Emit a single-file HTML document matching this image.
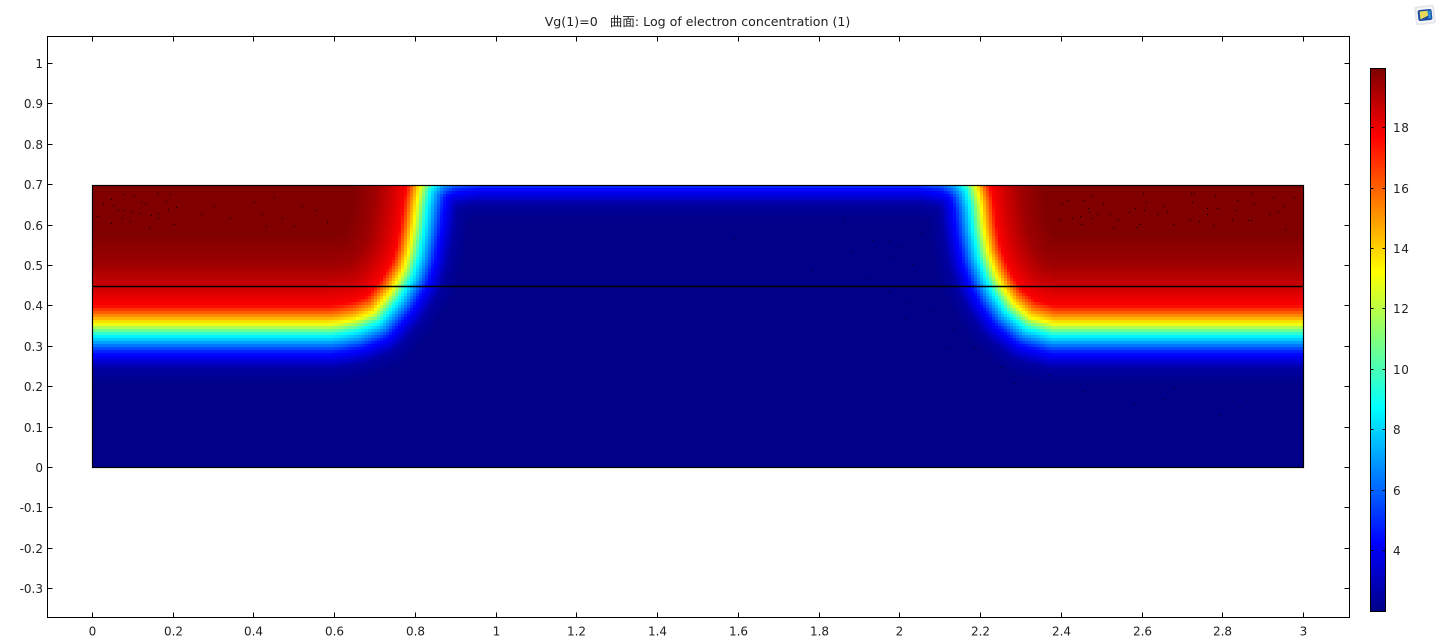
<!DOCTYPE html>
<html lang="en">
<head>
<meta charset="utf-8">
<title>Log of electron concentration</title>
<style>
  html, body { margin: 0; padding: 0; background: #fff; width: 1440px; height: 640px; overflow: hidden; }
  svg { display: block; position: absolute; left: 0; top: 0; }
  text { font-family: "DejaVu Sans", "WenQuanYi Zen Hei", "Noto Sans CJK SC", sans-serif; font-size: 12px; fill: #222; }
</style>
</head>
<body>
<svg id="chart" width="1440" height="640" viewBox="0 0 1440 640" xmlns="http://www.w3.org/2000/svg">
  <rect x="0" y="0" width="1440" height="640" fill="#fff"/>
  <g id="heatmap" shape-rendering="crispEdges"></g>
  <g id="specks" shape-rendering="crispEdges"></g>
  <g id="domain"></g>
  <g id="axes" shape-rendering="crispEdges"></g>
  <g id="tick-labels"></g>
  <g id="colorbar" shape-rendering="crispEdges"></g>
  <g id="colorbar-labels"></g>
  <text x="697.5" y="26" text-anchor="middle" xml:space="preserve" style="font-size:12.6px">Vg(1)=0   曲面: Log of electron concentration (1)</text>
  <g transform="translate(1425 15) rotate(-6)">
    <rect x="-10" y="-9.5" width="20" height="19" rx="2" fill="#e6e8ec"/>
    <rect x="-8" y="-7.5" width="16" height="15" rx="1" fill="#f7f7f9"/>
    <rect x="-7" y="-5.5" width="14" height="11" rx="2" fill="#1c4a9e"/>
    <path d="M-5 4 L-5 -4 L3 -4 L3 1 Z" fill="#e6d85a"/>
    <rect x="3" y="-4" width="3" height="8" fill="#2f8ad8"/>
  </g>
</svg>
<script>
// ---- axis tick data ----
const xTicks = [0, 0.2, 0.4, 0.6, 0.8, 1, 1.2, 1.4, 1.6, 1.8, 2, 2.2, 2.4, 2.6, 2.8, 3];
const yTicks = [1, 0.9, 0.8, 0.7, 0.6, 0.5, 0.4, 0.3, 0.2, 0.1, 0, -0.1, -0.2, -0.3];
const colorTicks = [18, 16, 14, 12, 10, 8, 6, 4];
const colorMin = 2.0;
const colorMax = 19.95;

// ---- geometry (data units) ----
const domainX = [0, 3];
const domainY = [0, 0.7];
const interfaceY = 0.45;

// ---- junction curve: where log concentration crosses ~13 ----
const junctionX = [-0.5, 0, 0.59, 0.614, 0.651, 0.696, 0.738, 0.751, 0.77, 0.783, 0.795, 0.803, 0.812, 0.84, 0.88, 0.95, 2.05, 2.12, 2.16, 2.188, 2.2, 2.207, 2.219, 2.237, 2.254, 2.281, 2.323, 2.38, 3, 3.5];
const junctionY = [0.356, 0.356, 0.356, 0.359, 0.366, 0.384, 0.433, 0.455, 0.488, 0.53, 0.594, 0.653, 0.7, 0.735, 0.755, 0.765, 0.765, 0.755, 0.735, 0.7, 0.653, 0.594, 0.53, 0.48, 0.446, 0.406, 0.371, 0.356, 0.356, 0.356];

// ---- log concentration against signed distance from the junction ----
const profileDistance = [-0.223, -0.144, -0.092, -0.045, -0.025, 0, 0.03, 0.072, 0.111, 0.149];
const profileValue = [19.95, 19.4, 18.6, 17.75, 15.8, 13.25, 8.75, 4.6, 2.5, 2.0];
const lateralStretchHigh = 1.4;
const lateralStretchLow = 1.1;

// ---- mesh specks ----
const speckX = [0.027,0.045,0.05,0.077,0.102,0.012,0.047,0.064,0.077,0.072,0.097,0.094,0.116,0.121,0.131,0.146,0.159,0.163,0.163,0.186,0.183,0.191,0.208,0.203,0.141,0.4,0.42,0.45,0.47,0.52,0.55,0.58,0.5,0.43,0.3,0.27,0.34,
  2.414,2.402,2.454,2.475,2.502,2.465,2.468,2.445,2.395,2.426,2.474,2.448,2.488,2.52,2.54,2.527,2.582,2.602,2.609,2.567,2.604,2.651,2.636,2.661,2.676,2.72,2.728,2.723,2.76,2.76,2.785,2.78,2.834,2.829,2.822,2.869,2.862,2.876,2.872,2.914,2.924,2.936,2.948,2.976,2.953,2.775,2.74,2.718,2.587,2.592];
const speckY = [0.656,0.666,0.651,0.678,0.673,0.624,0.606,0.639,0.639,0.619,0.636,0.611,0.631,0.658,0.653,0.626,0.681,0.631,0.619,0.641,0.661,0.678,0.646,0.604,0.594,0.66,0.63,0.67,0.62,0.65,0.64,0.61,0.6,0.6,0.65,0.63,0.62,
  0.665,0.655,0.665,0.675,0.655,0.644,0.633,0.625,0.615,0.618,0.618,0.603,0.628,0.63,0.615,0.598,0.644,0.68,0.66,0.633,0.64,0.65,0.628,0.633,0.603,0.68,0.68,0.66,0.643,0.63,0.645,0.677,0.665,0.638,0.615,0.615,0.615,0.655,0.68,0.63,0.672,0.635,0.648,0.67,0.593,0.601,0.611,0.615,0.598,0.603];
const faintSpeckX = [1.89,1.93,1.97,2.0,1.88,1.83,2.03,1.65,1.59,1.97,2.02,2.08,2.13,2.18,2.25,2.37,2.65,2.72,2.79,2.94,1.78,1.92,2.06,1.75,1.86,2.01,2.12,2.28,2.45,2.58,2.68,2.84,1.98,2.05,1.7];
const faintSpeckY = [0.59,0.565,0.56,0.55,0.535,0.56,0.505,0.535,0.57,0.435,0.41,0.39,0.34,0.3,0.25,0.23,0.17,0.12,0.13,0.105,0.49,0.47,0.45,0.6,0.62,0.37,0.3,0.21,0.19,0.16,0.2,0.15,0.52,0.58,0.45];

// ---- scales ----
const xScale = v => 92.5 + v * 403.7;
const yScale = v => 467.5 - v * 404;
const domainYScale = v => 467.5 - v * 403;
const colorScale = v => 550.5 - (v - 4) * 30.2;
const NS = 'http://www.w3.org/2000/svg';
const snap = p => Math.round(p - 0.5) + 0.5;

function jet(v) {
  const t = Math.max(0, Math.min(1, (v - colorMin) / (colorMax - colorMin)));
  const stops = [[0, 0, 0, 136], [0.125, 0, 0, 255], [0.375, 0, 255, 255], [0.625, 255, 255, 0], [0.875, 255, 0, 0], [1, 128, 0, 0]];
  for (let i = 1; i < stops.length; i++) {
    if (t <= stops[i][0]) {
      const a = stops[i - 1], b = stops[i], f = (t - a[0]) / (b[0] - a[0]);
      return 'rgb(' + Math.round(a[1] + (b[1] - a[1]) * f) + ',' + Math.round(a[2] + (b[2] - a[2]) * f) + ',' + Math.round(a[3] + (b[3] - a[3]) * f) + ')';
    }
  }
  return 'rgb(128,0,0)';
}

function lookup(xs, ys, x) {
  if (x <= xs[0]) return ys[0];
  for (let i = 1; i < xs.length; i++) {
    if (x <= xs[i]) return ys[i - 1] + (ys[i] - ys[i - 1]) * (x - xs[i - 1]) / (xs[i] - xs[i - 1]);
  }
  return ys[ys.length - 1];
}

function signedDistance(x, y) {
  const low = y < lookup(junctionX, junctionY, x);
  const stretch = low ? lateralStretchLow : lateralStretchHigh;
  let best = Infinity;
  for (let i = 1; i < junctionX.length; i++) {
    const ax = junctionX[i - 1] * stretch, ay = junctionY[i - 1];
    const bx = junctionX[i] * stretch, by = junctionY[i];
    const px = x * stretch, dx = bx - ax, dy = by - ay;
    const len = dx * dx + dy * dy;
    const u = len ? Math.max(0, Math.min(1, ((px - ax) * dx + (y - ay) * dy) / len)) : 0;
    const ex = px - (ax + u * dx), ey = y - (ay + u * dy);
    const dist = ex * ex + ey * ey;
    if (dist < best) best = dist;
  }
  best = Math.sqrt(best);
  return low ? best : -best;
}

function line(parent, x1, y1, x2, y2, width) {
  const el = document.createElementNS(NS, 'line');
  el.setAttribute('x1', x1);
  el.setAttribute('y1', y1);
  el.setAttribute('x2', x2);
  el.setAttribute('y2', y2);
  el.setAttribute('stroke', '#000');
  el.setAttribute('stroke-width', width || 1);
  parent.appendChild(el);
  return el;
}

function label(parent, x, y, str, anchor, spacing) {
  const el = document.createElementNS(NS, 'text');
  el.setAttribute('x', x);
  el.setAttribute('y', y);
  el.setAttribute('text-anchor', anchor);
  if (spacing) el.setAttribute('letter-spacing', spacing);
  el.textContent = str;
  parent.appendChild(el);
  return el;
}

// ---- heatmap ----
const heat = document.getElementById('heatmap');
const cellsX = 404, cellsY = 94;
const stepX = (domainX[1] - domainX[0]) / cellsX;
const stepY = (domainY[1] - domainY[0]) / cellsY;
const frag = document.createDocumentFragment();
for (let i = 0; i < cellsX; i++) {
  const cx = domainX[0] + (i + 0.5) * stepX;
  const left = Math.round(xScale(domainX[0] + i * stepX));
  const right = Math.round(xScale(domainX[0] + (i + 1) * stepX));
  for (let j = 0; j < cellsY; j++) {
    const cy = domainY[0] + (j + 0.5) * stepY;
    const top = Math.round(domainYScale(domainY[0] + (j + 1) * stepY));
    const bottom = Math.round(domainYScale(domainY[0] + j * stepY));
    const value = lookup(profileDistance, profileValue, signedDistance(cx, cy));
    const r = document.createElementNS(NS, 'rect');
    
    
    r.setAttribute('x', left);
    r.setAttribute('y', top);
    r.setAttribute('width', right - left);
    r.setAttribute('height', bottom - top);
    r.setAttribute('fill', jet(value));
    frag.appendChild(r);
  }
}
heat.appendChild(frag);

// ---- specks ----
const specks = document.getElementById('specks');
speckX.forEach((x, i) => {
  const s = document.createElementNS(NS, 'rect');
  
  
  s.setAttribute('x', Math.round(xScale(x)));
  s.setAttribute('y', Math.round(domainYScale(speckY[i])));
  s.setAttribute('width', 1);
  s.setAttribute('height', 1);
  s.setAttribute('fill', '#000');
  specks.appendChild(s);
});
faintSpeckX.forEach((x, i) => {
  const s = document.createElementNS(NS, 'rect');
  
  
  s.setAttribute('x', Math.round(xScale(x)));
  s.setAttribute('y', Math.round(domainYScale(faintSpeckY[i])));
  s.setAttribute('width', 2);
  s.setAttribute('height', 1);
  s.setAttribute('fill', '#000');
  s.setAttribute('opacity', 0.45);
  specks.appendChild(s);
});

// ---- geometry outline ----
const domain = document.getElementById('domain');
const outline = document.createElementNS(NS, 'rect');


outline.setAttribute('x', snap(xScale(domainX[0])));
outline.setAttribute('y', snap(domainYScale(domainY[1])));
outline.setAttribute('width', snap(xScale(domainX[1])) - snap(xScale(domainX[0])));
outline.setAttribute('height', snap(domainYScale(domainY[0])) - snap(domainYScale(domainY[1])));
outline.setAttribute('fill', 'none');
outline.setAttribute('stroke', '#000');
outline.setAttribute('stroke-width', 1.2);
domain.appendChild(outline);
const layerLine = line(domain, snap(xScale(domainX[0])), snap(domainYScale(interfaceY)), snap(xScale(domainX[1])), snap(domainYScale(interfaceY)), 1.4);



// ---- axes ----
const frameL = 47.5, frameR = 1349.5, frameT = 36.5, frameB = 617.5, tickLen = 5;
const axes = document.getElementById('axes');
const labels = document.getElementById('tick-labels');
const frame = document.createElementNS(NS, 'rect');


frame.setAttribute('x', frameL);
frame.setAttribute('y', frameT);
frame.setAttribute('width', frameR - frameL);
frame.setAttribute('height', frameB - frameT);
frame.setAttribute('fill', 'none');
frame.setAttribute('stroke', '#000');
axes.appendChild(frame);

xTicks.forEach(v => {
  const px = snap(xScale(v));
  const bottomTick = line(axes, px, frameB, px, frameB - tickLen);
  
  
  const topTick = line(axes, px, frameT, px, frameT + tickLen);
  
  
  const t = label(labels, px, 635.5, String(v), 'middle');
  
  
});

yTicks.forEach(v => {
  const py = snap(yScale(v));
  const leftTick = line(axes, frameL, py, frameL + tickLen, py);
  
  
  const rightTick = line(axes, frameR, py, frameR - tickLen, py);
  
  
  const t = label(labels, 43, py + 4.5, String(v), 'end');
  
  
});

// ---- colorbar ----
const bar = document.getElementById('colorbar');
const barL = 1371, barR = 1385;
const barTop = Math.round(colorScale(colorMax));
const barBottom = Math.round(colorScale(colorMin));
for (let py = barTop; py < barBottom; py++) {
  const v = colorMin + (colorMax - colorMin) * (barBottom - py - 0.5) / (barBottom - barTop);
  const c = document.createElementNS(NS, 'rect');
  
  
  c.setAttribute('x', barL);
  c.setAttribute('y', py);
  c.setAttribute('width', barR - barL);
  c.setAttribute('height', 1);
  c.setAttribute('fill', jet(v));
  bar.appendChild(c);
}
const barFrame = document.createElementNS(NS, 'rect');


barFrame.setAttribute('x', barL - 0.5);
barFrame.setAttribute('y', barTop - 0.5);
barFrame.setAttribute('width', barR - barL + 1);
barFrame.setAttribute('height', barBottom - barTop + 1);
barFrame.setAttribute('fill', 'none');
barFrame.setAttribute('stroke', '#000');
bar.appendChild(barFrame);

const barLabels = document.getElementById('colorbar-labels');
colorTicks.forEach(v => {
  const py = snap(colorScale(v));
  const a = line(bar, barL - 0.5, py, barL + 2.5, py);
  
  
  const b = line(bar, barR - 2.5, py, barR + 0.5, py);
  
  
  const t = label(barLabels, 1393, py + 4.5, String(v), 'start', 0.6);
  
  
});
</script>
</body>
</html>
